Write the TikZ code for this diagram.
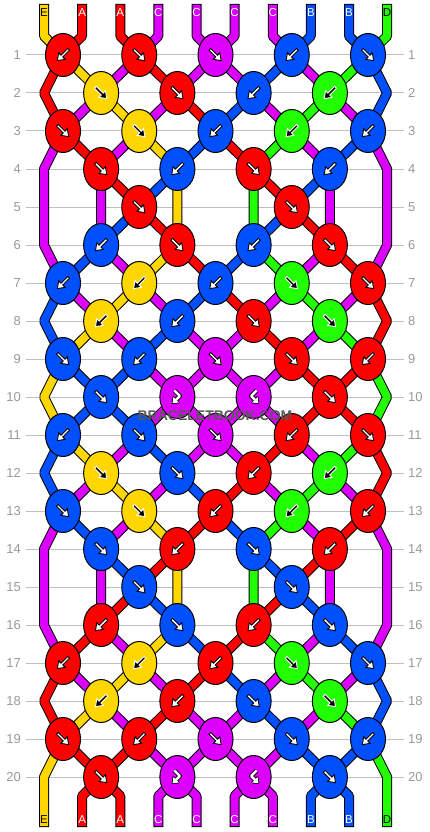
\documentclass[tikz,border=0pt]{standalone}
\usepackage{fontspec}
\setmainfont{Liberation Sans}
\usetikzlibrary{shapes.geometric}
\pgfdeclarelayer{gridl}
\pgfdeclarelayer{strl}
\pgfsetlayers{gridl,strl,main}
\definecolor{cR}{HTML}{FF0000}
\definecolor{cY}{HTML}{FFD700}
\definecolor{cM}{HTML}{DD00FF}
\definecolor{cB}{HTML}{0050FF}
\definecolor{cG}{HTML}{22FF00}
\tikzset{
 knot/.style={ellipse, draw=black, line width=1pt, minimum width=35pt, minimum height=43pt, inner sep=0pt},
 sout/.style={line width=10pt, draw=black, line cap=rect, line join=bevel},
 sin/.style={line width=8pt, line cap=rect, line join=bevel},
 gridline/.style={draw=black!25, line width=1pt},
 rowlab/.style={font=\fontsize{13}{13}\selectfont, text=black!40, inner sep=0pt},
 slab/.style={font=\fontsize{11.5}{11.5}\selectfont, inner sep=0pt},
 wm/.style={font=\bfseries\fontsize{14}{14}\selectfont, inner sep=0pt},
}
\newcommand\bstr[2]{\draw[sout] #2; \draw[sin,draw=#1] #2;}
\begin{document}
\begin{tikzpicture}[x=1pt,y=-1pt]
\useasboundingbox (0,0) rectangle (430,832);
% grid lines and row numbers
\begin{pgfonlayer}{gridl}
\foreach \r in {1,...,20}{
  \node[rowlab, anchor=east] (ll\r) at (21,{17+38*\r}) {\r};
  \node[rowlab, anchor=west] (rl\r) at (408,{17+38*\r}) {\r};
  \draw[gridline] ([xshift=5pt]ll\r.east) -- ([xshift=-4pt]rl\r.west);
}
\end{pgfonlayer}
% helper coordinates
\foreach \i in {1,...,10}{
  \pgfmathsetmacro\xs{44+38.125*(\i-1)}
  \coordinate (T\i) at (\xs,9);
  \coordinate (U\i) at (\xs,36);
  \coordinate (D\i) at (\xs,796);
  \coordinate (E\i) at (\xs,822);
}
\foreach \r in {2,4,...,20}{
  \coordinate (L\r) at (44,{17+38*\r});
  \coordinate (R\r) at (387.125,{17+38*\r});
}
% knots
\foreach \r/\c/\col/\a/\fg/\bg in {
1/1/cR/-135/white/black, 1/3/cR/-45/white/black, 1/5/cM/-45/white/black, 1/7/cB/-135/white/black, 1/9/cB/-45/white/black,
2/2/cY/-45/black/white, 2/4/cR/-45/white/black, 2/6/cB/-135/white/black, 2/8/cG/-135/black/white,
3/1/cR/-45/white/black, 3/3/cY/-45/black/white, 3/5/cB/-135/white/black, 3/7/cG/-135/black/white, 3/9/cB/-135/white/black,
4/2/cR/-45/white/black, 4/4/cB/-135/white/black, 4/6/cR/-45/white/black, 4/8/cB/-135/white/black,
5/3/cR/-45/white/black, 5/7/cR/-45/white/black,
6/2/cB/-135/white/black, 6/4/cR/-45/white/black, 6/6/cB/-135/white/black, 6/8/cR/-45/white/black,
7/1/cB/-135/white/black, 7/3/cY/-135/black/white, 7/5/cB/-135/white/black, 7/7/cG/-45/black/white, 7/9/cR/-45/white/black,
8/2/cY/-135/black/white, 8/4/cB/-135/white/black, 8/6/cR/-45/white/black, 8/8/cG/-45/black/white,
9/1/cB/-45/white/black, 9/3/cB/-135/white/black, 9/5/cM/-45/white/black, 9/7/cR/-45/white/black, 9/9/cR/-135/white/black,
10/2/cB/-45/white/black, 10/8/cR/-45/white/black,
11/1/cB/-135/white/black, 11/3/cB/-45/white/black, 11/5/cM/-45/white/black, 11/7/cR/-135/white/black, 11/9/cR/-45/white/black,
12/2/cY/-45/black/white, 12/4/cB/-45/white/black, 12/6/cR/-135/white/black, 12/8/cG/-135/black/white,
13/1/cB/-45/white/black, 13/3/cY/-45/black/white, 13/5/cR/-135/white/black, 13/7/cG/-135/black/white, 13/9/cR/-135/white/black,
14/2/cB/-45/white/black, 14/4/cR/-135/white/black, 14/6/cB/-45/white/black, 14/8/cR/-135/white/black,
15/3/cB/-45/white/black, 15/7/cB/-45/white/black,
16/2/cR/-135/white/black, 16/4/cB/-45/white/black, 16/6/cR/-135/white/black, 16/8/cB/-45/white/black,
17/1/cR/-135/white/black, 17/3/cY/-135/black/white, 17/5/cR/-135/white/black, 17/7/cG/-45/black/white, 17/9/cB/-45/white/black,
18/2/cY/-135/black/white, 18/4/cR/-135/white/black, 18/6/cB/-45/white/black, 18/8/cG/-45/black/white,
19/1/cR/-45/white/black, 19/3/cR/-135/white/black, 19/5/cM/-45/white/black, 19/7/cB/-45/white/black, 19/9/cB/-135/white/black,
20/2/cR/-45/white/black, 20/8/cB/-45/white/black}{
  \node[knot, fill=\col] (K\r-\c) at ({63+38.125*(\c-1)},{17+38*\r}) {};
  \begin{scope}[shift={(K\r-\c.center)}, rotate=\a]
    \filldraw[fill=\fg, draw=\bg, line width=0.9pt, line join=miter]
      (-8,-1.3) -- (1.5,-1.3) -- (1.5,-4.6) -- (8,0) -- (1.5,4.6) -- (1.5,1.3) -- (-8,1.3) -- cycle;
  \end{scope}
}
% forward-backward / backward-forward knots
\foreach \r/\c/\xf in {10/4/1, 10/6/-1, 20/4/1, 20/6/-1}{
  \node[knot, fill=cM] (K\r-\c) at ({63+38.125*(\c-1)},{17+38*\r}) {};
  \begin{scope}[shift={(K\r-\c.center)}, xscale=\xf]
    \draw[black, line width=4.2pt, line join=round] (-3,-6.5) -- (2.5,-1) -- (-1.5,3);
    \filldraw[black, line width=1.6pt, line join=round] (-4.8,6.3) -- (1.4,5.5) -- (-4,0.1) -- cycle;
    \draw[white, line width=2.4pt, line join=round] (-3,-6.5) -- (2.5,-1) -- (-1.5,3);
    \fill[white] (-4.8,6.3) -- (1.4,5.5) -- (-4,0.1) -- cycle;
  \end{scope}
}
% strings
\begin{pgfonlayer}{strl}
\bstr{cY}{(T1) -- (U1) -- (K1-1.center) -- (K2-2.center) -- (K3-3.center) -- (K4-4.center) -- (K6-4.center) -- (K7-3.center) -- (K8-2.center) -- (K9-1.center) -- (L10) -- (K11-1.center) -- (K12-2.center) -- (K13-3.center) -- (K14-4.center) -- (K16-4.center) -- (K17-3.center) -- (K18-2.center) -- (K19-1.center) -- (L20) -- (E1)}
\bstr{cR}{(T2) -- (U2) -- (K1-1.center) -- (L2) -- (K3-1.center) -- (K4-2.center) -- (K5-3.center) -- (K6-4.center) -- (K7-5.center) -- (K8-6.center) -- (K9-7.center) -- (K10-8.center) -- (K11-9.center) -- (R12) -- (K13-9.center) -- (K14-8.center) -- (K15-7.center) -- (K16-6.center) -- (K17-5.center) -- (K18-4.center) -- (K19-3.center) -- (K20-2.center) -- (D2) -- (E2)}
\bstr{cR}{(T3) -- (U3) -- (K1-3.center) -- (K2-4.center) -- (K3-5.center) -- (K4-6.center) -- (K5-7.center) -- (K6-8.center) -- (K7-9.center) -- (R8) -- (K9-9.center) -- (K10-8.center) -- (K11-7.center) -- (K12-6.center) -- (K13-5.center) -- (K14-4.center) -- (K15-3.center) -- (K16-2.center) -- (K17-1.center) -- (L18) -- (K19-1.center) -- (K20-2.center) -- (D3) -- (E3)}
\bstr{cM}{(T4) -- (U4) -- (K1-3.center) -- (K2-2.center) -- (K3-1.center) -- (L4) -- (L6) -- (K7-1.center) -- (K8-2.center) -- (K9-3.center) -- (K10-4.center) -- (K11-3.center) -- (K12-2.center) -- (K13-1.center) -- (L14) -- (L16) -- (K17-1.center) -- (K18-2.center) -- (K19-3.center) -- (K20-4.center) -- (D4) -- (E4)}
\bstr{cM}{(T5) -- (U5) -- (K1-5.center) -- (K2-6.center) -- (K3-7.center) -- (K4-8.center) -- (K6-8.center) -- (K7-7.center) -- (K8-6.center) -- (K9-5.center) -- (K10-4.center) -- (K11-5.center) -- (K12-6.center) -- (K13-7.center) -- (K14-8.center) -- (K16-8.center) -- (K17-7.center) -- (K18-6.center) -- (K19-5.center) -- (K20-4.center) -- (D5) -- (E5)}
\bstr{cM}{(T6) -- (U6) -- (K1-5.center) -- (K2-4.center) -- (K3-3.center) -- (K4-2.center) -- (K6-2.center) -- (K7-3.center) -- (K8-4.center) -- (K9-5.center) -- (K10-6.center) -- (K11-5.center) -- (K12-4.center) -- (K13-3.center) -- (K14-2.center) -- (K16-2.center) -- (K17-3.center) -- (K18-4.center) -- (K19-5.center) -- (K20-6.center) -- (D6) -- (E6)}
\bstr{cM}{(T7) -- (U7) -- (K1-7.center) -- (K2-8.center) -- (K3-9.center) -- (R4) -- (R6) -- (K7-9.center) -- (K8-8.center) -- (K9-7.center) -- (K10-6.center) -- (K11-7.center) -- (K12-8.center) -- (K13-9.center) -- (R14) -- (R16) -- (K17-9.center) -- (K18-8.center) -- (K19-7.center) -- (K20-6.center) -- (D7) -- (E7)}
\bstr{cB}{(T8) -- (U8) -- (K1-7.center) -- (K2-6.center) -- (K3-5.center) -- (K4-4.center) -- (K5-3.center) -- (K6-2.center) -- (K7-1.center) -- (L8) -- (K9-1.center) -- (K10-2.center) -- (K11-3.center) -- (K12-4.center) -- (K13-5.center) -- (K14-6.center) -- (K15-7.center) -- (K16-8.center) -- (K17-9.center) -- (R18) -- (K19-9.center) -- (K20-8.center) -- (D8) -- (E8)}
\bstr{cB}{(T9) -- (U9) -- (K1-9.center) -- (R2) -- (K3-9.center) -- (K4-8.center) -- (K5-7.center) -- (K6-6.center) -- (K7-5.center) -- (K8-4.center) -- (K9-3.center) -- (K10-2.center) -- (K11-1.center) -- (L12) -- (K13-1.center) -- (K14-2.center) -- (K15-3.center) -- (K16-4.center) -- (K17-5.center) -- (K18-6.center) -- (K19-7.center) -- (K20-8.center) -- (D9) -- (E9)}
\bstr{cG}{(T10) -- (U10) -- (K1-9.center) -- (K2-8.center) -- (K3-7.center) -- (K4-6.center) -- (K6-6.center) -- (K7-7.center) -- (K8-8.center) -- (K9-9.center) -- (R10) -- (K11-9.center) -- (K12-8.center) -- (K13-7.center) -- (K14-6.center) -- (K16-6.center) -- (K17-7.center) -- (K18-8.center) -- (K19-9.center) -- (R20) -- (E10)}
\end{pgfonlayer}
% string letters
\foreach \i/\t/\tc in {1/E/black, 2/A/white, 3/A/white, 4/C/white, 5/C/white, 6/C/white, 7/C/white, 8/B/white, 9/B/white, 10/D/black}{
  \node[slab, text=\tc] (tl\i) at ({44+38.125*(\i-1)},12.5) {\t};
  \node[slab, text=\tc] (bl\i) at ({44+38.125*(\i-1)},820) {\t};
}
% watermark
\node[wm, text=black!65] (wm) at (215,416) {BRACELETBOOK.COM};
\end{tikzpicture}
\end{document}
